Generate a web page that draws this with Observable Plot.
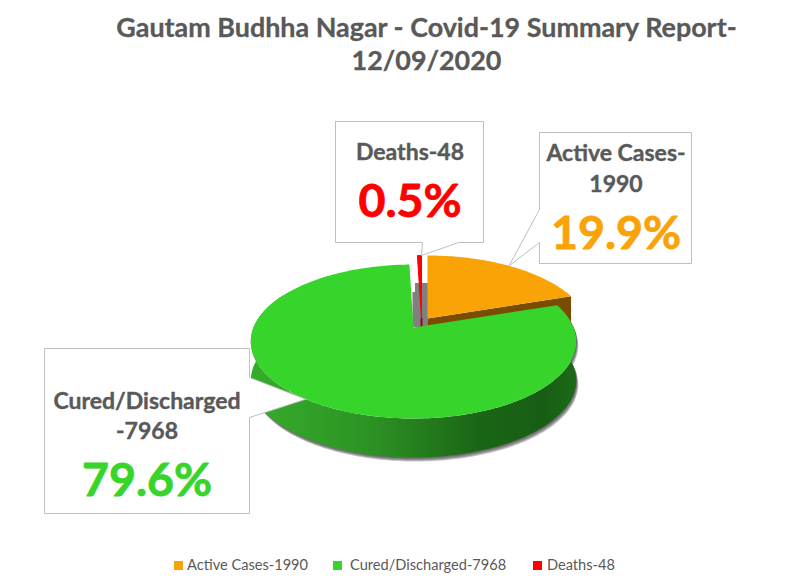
<!DOCTYPE html>
<html>
<head>
<meta charset="utf-8">
<script src="https://cdn.jsdelivr.net/npm/d3@7"></script>
<script src="https://cdn.jsdelivr.net/npm/@observablehq/plot@0.6"></script>
<style>
html,body{margin:0;padding:0;background:#fff;}
#page{position:relative;width:801px;height:582px;overflow:hidden;font-family:Lato,sans-serif;color:#595959;}
#title{box-sizing:border-box;height:90px;width:801px;padding:10px 0 0 52px;text-align:center;font-weight:700;font-size:26.9px;line-height:33px;-webkit-text-stroke:0.3px #595959;}
#legend{position:absolute;top:555px;left:0;height:20px;font-size:14.6px;line-height:20px;}
#legend span{position:absolute;white-space:nowrap;}
#legend i{position:absolute;width:9px;height:9px;top:6px;}
</style>
</head>
<body>
<div id="page"><div id="title"></div><div id="chart"></div><div id="legend"></div></div>
<script>
const titleLines = ["Gautam Budhha Nagar - Covid-19 Summary Report-", "12/09/2020"];
const categories = ["Active Cases-1990", "Cured/Discharged-7968", "Deaths-48"];
const values = [1990, 7968, 48];
const percentLabels = ["19.9%", "79.6%", "0.5%"];
const colors = ["#faa307", "#37d52b", "#ff0000"];
const wallColors = ["#7a4c02", "#2a8d22", "#a00008"];
const calloutLines = [["Active Cases-", "1990"], ["Cured/Discharged", "-7968"], ["Deaths-48"]];

// layout of the drawing, in page pixels
const TOP = 90;
const rx = 160, apexY = 327, yBack = -15, persp = 0.1818, depth = 39;
const offsets = [[14, -9], [0, 0], [8, -9]];
const pieCx = 413;
const boxes = [
  {x1: 539, x2: 691, y1: 132, y2: 263, edge: "left", a: 209, b: 242},
  {x1: 44, x2: 249, y1: 348, y2: 513, edge: "right", a: 377, b: 417},
  {x1: 335, x2: 483, y1: 121, y2: 242, edge: "bottom", a: 422, b: 458}
];
const textPos = [
  {cx: 615.5, lines: [160, 191], pct: 248},
  {cx: 146.5, lines: [408, 438], pct: 495},
  {cx: 409.5, lines: [159], pct: 216}
];

const arcs = d3.pie().sort(null).startAngle(0).endAngle(2 * Math.PI)(values);

function project(theta, off = [0, 0], dz = 0) {
  const u = Math.sin(theta), v = Math.cos(theta), w = 1 + persp * v;
  return {x: pieCx + off[0] + rx * u / w, y: (apexY + yBack * v) / w + off[1] + dz};
}
function arcPts(a0, a1, off, dz = 0) {
  const n = Math.max(2, Math.ceil(Math.abs(a1 - a0) / 0.02));
  return d3.range(n + 1).map(i => project(a0 + (a1 - a0) * i / n, off, dz));
}
const apex = (off, dz = 0) => ({x: pieCx + off[0], y: apexY + off[1] + dz});
const topFace = i => [apex(offsets[i]), ...arcPts(arcs[i].startAngle, arcs[i].endAngle, offsets[i]), apex(offsets[i])];

// green outer wall, seen along the front of the rim
const g = arcs[1];
const sideStart = g.startAngle, sideEnd = 5.2;
const sideTop = arcPts(sideStart, sideEnd, offsets[1]);
const sideBottom = arcPts(sideStart, sideEnd, offsets[1], depth).reverse();
const sideWall = [...sideTop, ...sideBottom];
// soft shadow: a few translucent copies of the wall, each a little further out
const shadowSteps = [1, 2, 3, 4];
const shadowLayers = shadowSteps.map(s => sideWall.map(p => ({x: p.x + s * 0.5, y: p.y + s})));

// radial wall of the orange slice
const o = arcs[0];
const oEnd = project(o.endAngle, offsets[0]);
const oApex = apex(offsets[0]);
const orangeWall = [oApex, oEnd, {x: oEnd.x, y: oEnd.y + depth}, {x: oApex.x, y: oApex.y + depth}];

// grey inner walls in the gap between the slices
const inner = [{x1: 415, x2: 428, y1: 283, y2: 327}, {x1: 412.5, x2: 415, y1: 292, y2: 327}];
const redEdge = [apex(offsets[2]), {x: apex(offsets[2]).x, y: apexY}];

const calloutPath = i => {
  const b = boxes[i];
  const mid = (arcs[i].startAngle + arcs[i].endAngle) / 2;
  const tip = i === 2 ? project(arcs[2].endAngle, offsets[2]) : project(mid, offsets[i]);
  const tl = {x: b.x1, y: b.y1}, tr = {x: b.x2, y: b.y1}, br = {x: b.x2, y: b.y2}, bl = {x: b.x1, y: b.y2};
  if (b.edge === "left") return [tl, tr, br, bl, {x: b.x1, y: b.b}, tip, {x: b.x1, y: b.a}, tl];
  if (b.edge === "right") return [tl, tr, {x: b.x2, y: b.a}, tip, {x: b.x2, y: b.b}, br, bl, tl];
  return [tl, tr, br, {x: b.b, y: b.y2}, tip, {x: b.a, y: b.y2}, bl, tl];
};

const poly = (pts, fill, extra = {}) => Plot.line(pts, {x: "x", y: "y", fill, stroke: "none", curve: "linear", ...extra});

const nameSize = 23, pctSize = 46.5;
const nameText = categories.flatMap((c, i) => calloutLines[i].map((t, j) => ({t, x: textPos[i].cx, y: textPos[i].lines[j] - 0.32 * nameSize})));
const pctText = percentLabels.map((t, i) => ({t, x: textPos[i].cx, y: textPos[i].pct - 0.32 * pctSize, c: colors[i]}));

const defs = () => {
  const d = d3.create("svg:defs");
  const lg = d.append("linearGradient").attr("id", "greenSide");
  [[0, "#36ad2b"], [0.35, "#2d9424"], [0.7, "#1b6616"], [0.9, "#175e14"], [1, "#1c6a17"]]
    .forEach(([o, c]) => lg.append("stop").attr("offset", o).attr("stop-color", c));
  return d.node();
};

const chart = Plot.plot({
  width: 801, height: 460, margin: 0,
  style: {background: "transparent", overflow: "visible"},
  x: {type: "linear", domain: [0, 801], range: [0, 801], axis: null},
  y: {type: "linear", domain: [TOP, TOP + 460], range: [0, 460], axis: null},
  marks: [
    defs,
    ...shadowLayers.map(l => poly(l, "#404040", {fillOpacity: 0.3})),
    poly(sideWall, "url(#greenSide)"),
    poly(orangeWall, wallColors[0]),
    Plot.rect(inner, {x1: "x1", x2: "x2", y1: "y1", y2: "y2", fill: "#808080"}),
    Plot.line(redEdge, {x: "x", y: "y", stroke: wallColors[2], strokeWidth: 2}),
    poly(topFace(2), colors[2], {stroke: colors[2], strokeWidth: 1}),
    poly(topFace(0), colors[0]),
    poly(topFace(1), colors[1]),
    ...boxes.map((b, i) => poly(calloutPath(i), "#fff", {stroke: "#bfbfbf", strokeWidth: 1})),
    Plot.text(nameText, {x: "x", y: "y", text: "t", fontFamily: "Lato, sans-serif", fontWeight: 700, fontSize: nameSize, fill: "#595959", stroke: "#595959", strokeWidth: 0.4}),
    Plot.text(pctText, {x: "x", y: "y", text: "t", fontFamily: "Lato, sans-serif", fontWeight: 700, fontSize: pctSize, fill: "c", stroke: "c", strokeWidth: 0.8})
  ]
});
document.getElementById("chart").append(chart);

document.getElementById("title").innerHTML = titleLines.join("<br>");
const legendX = [[174, 187], [333, 350], [533, 547]];
const legend = document.getElementById("legend");
categories.forEach((c, i) => {
  const sw = document.createElement("i");
  sw.style.left = legendX[i][0] + "px"; sw.style.background = colors[i];
  const s = document.createElement("span");
  s.style.left = legendX[i][1] + "px"; s.textContent = c;
  legend.append(sw, s);
});
</script>
</body>
</html>
